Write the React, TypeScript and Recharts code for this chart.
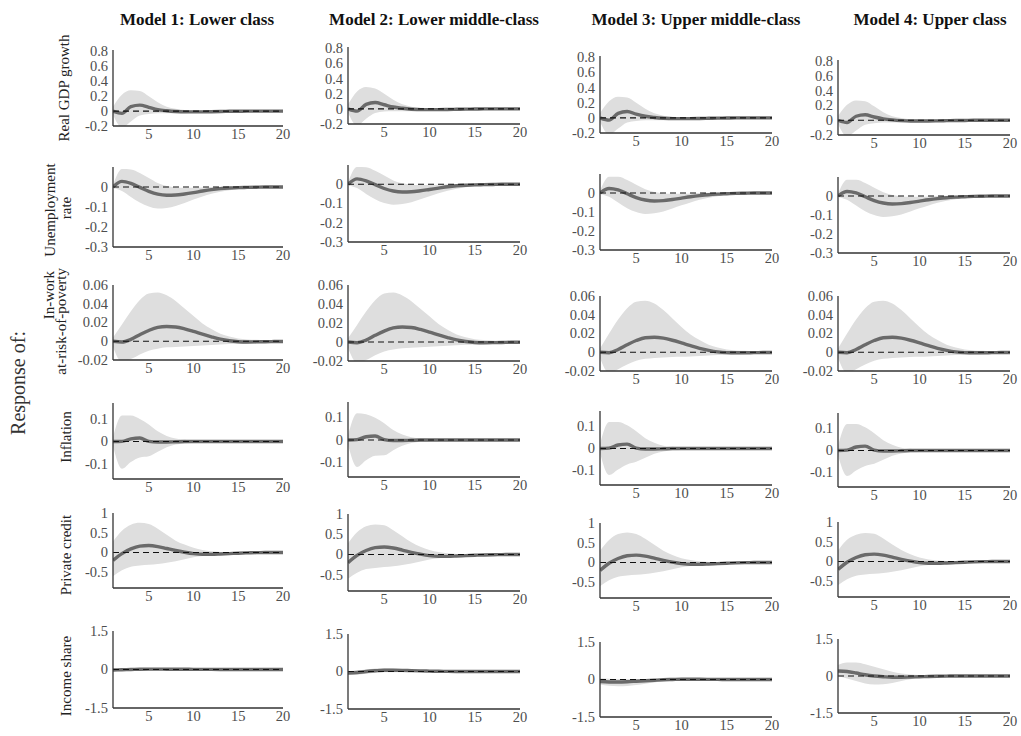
import { Area, ComposedChart, Line, ReferenceLine, XAxis, YAxis } from "recharts";

const horizons = [1, 2, 3, 4, 5, 6, 7, 8, 9, 10, 11, 12, 13, 14, 15, 16, 17, 18, 19, 20];
const modelTitles = ["Model 1: Lower class", "Model 2: Lower middle-class", "Model 3: Upper middle-class", "Model 4: Upper class"];
const xTicks = [5, 10, 15, 20];

// y ticks and domains, one per response row
const gdpTicks = [-0.2, 0, 0.2, 0.4, 0.6, 0.8];
const unempTicks = [-0.3, -0.2, -0.1, 0];
const povertyTicks = [-0.02, 0, 0.02, 0.04, 0.06];
const inflationTicks = [-0.1, 0, 0.1];
const creditTicks = [-0.5, 0, 0.5, 1];
const shareTicks = [-1.5, 0, 1.5];

// Real GDP growth
const gdpMedian = [
  [0, -0.03, 0.06, 0.08, 0.05, 0.02, 0.005, -0.005, -0.01, -0.01, -0.01, -0.008, -0.005, -0.003, -0.002, 0, 0, 0, 0, 0],
  [0, -0.03, 0.06, 0.085, 0.055, 0.025, 0.008, -0.004, -0.01, -0.01, -0.01, -0.008, -0.005, -0.003, -0.002, 0, 0, 0, 0, 0],
  [0, -0.03, 0.06, 0.085, 0.05, 0.022, 0.006, -0.005, -0.01, -0.01, -0.01, -0.008, -0.005, -0.003, -0.002, 0, 0, 0, 0, 0],
  [0, -0.03, 0.055, 0.075, 0.045, 0.02, 0.005, -0.005, -0.01, -0.01, -0.01, -0.008, -0.005, -0.003, -0.002, 0, 0, 0, 0, 0],
];
const gdpUpper = [
  [0.06, 0.22, 0.28, 0.27, 0.2, 0.12, 0.06, 0.03, 0.015, 0.01, 0.008, 0.006, 0.005, 0.004, 0.003, 0.003, 0.002, 0.002, 0.002, 0.002],
  [0.06, 0.23, 0.29, 0.27, 0.2, 0.12, 0.06, 0.03, 0.015, 0.01, 0.008, 0.006, 0.005, 0.004, 0.003, 0.003, 0.002, 0.002, 0.002, 0.002],
  [0.06, 0.22, 0.28, 0.27, 0.2, 0.12, 0.06, 0.03, 0.015, 0.01, 0.008, 0.006, 0.005, 0.004, 0.003, 0.003, 0.002, 0.002, 0.002, 0.002],
  [0.06, 0.21, 0.27, 0.26, 0.19, 0.11, 0.055, 0.03, 0.015, 0.01, 0.008, 0.006, 0.005, 0.004, 0.003, 0.003, 0.002, 0.002, 0.002, 0.002],
];
const gdpLower = [
  [-0.05, -0.22, -0.14, -0.06, -0.04, -0.03, -0.03, -0.03, -0.028, -0.025, -0.02, -0.016, -0.012, -0.01, -0.008, -0.006, -0.005, -0.004, -0.003, -0.003],
  [-0.05, -0.22, -0.13, -0.055, -0.035, -0.03, -0.03, -0.03, -0.028, -0.025, -0.02, -0.016, -0.012, -0.01, -0.008, -0.006, -0.005, -0.004, -0.003, -0.003],
  [-0.05, -0.22, -0.14, -0.06, -0.04, -0.03, -0.03, -0.03, -0.028, -0.025, -0.02, -0.016, -0.012, -0.01, -0.008, -0.006, -0.005, -0.004, -0.003, -0.003],
  [-0.05, -0.22, -0.14, -0.06, -0.04, -0.03, -0.03, -0.03, -0.028, -0.025, -0.02, -0.016, -0.012, -0.01, -0.008, -0.006, -0.005, -0.004, -0.003, -0.003],
];

// Unemployment rate
const unempMedian = [
  [0, 0.028, 0.018, -0.002, -0.022, -0.036, -0.041, -0.04, -0.035, -0.028, -0.02, -0.013, -0.008, -0.005, -0.003, -0.002, -0.001, 0, 0, 0],
  [0, 0.028, 0.018, -0.002, -0.022, -0.035, -0.04, -0.039, -0.034, -0.027, -0.02, -0.013, -0.008, -0.005, -0.003, -0.002, -0.001, 0, 0, 0],
  [0, 0.024, 0.016, -0.004, -0.024, -0.037, -0.042, -0.04, -0.034, -0.027, -0.02, -0.014, -0.009, -0.006, -0.004, -0.002, -0.001, 0, 0, 0],
  [0, 0.024, 0.016, -0.004, -0.024, -0.037, -0.042, -0.04, -0.034, -0.027, -0.02, -0.014, -0.009, -0.006, -0.004, -0.002, -0.001, 0, 0, 0],
];
const unempUpper = [
  [0.01, 0.09, 0.088, 0.07, 0.045, 0.02, 0.005, -0.002, -0.004, -0.004, -0.002, 0, 0.001, 0.001, 0.001, 0.001, 0.001, 0.001, 0.001, 0.001],
  [0.01, 0.09, 0.088, 0.07, 0.045, 0.02, 0.005, -0.002, -0.004, -0.004, -0.002, 0, 0.001, 0.001, 0.001, 0.001, 0.001, 0.001, 0.001, 0.001],
  [0.01, 0.085, 0.085, 0.068, 0.043, 0.02, 0.005, -0.002, -0.004, -0.004, -0.002, 0, 0.001, 0.001, 0.001, 0.001, 0.001, 0.001, 0.001, 0.001],
  [0.01, 0.085, 0.085, 0.068, 0.043, 0.02, 0.005, -0.002, -0.004, -0.004, -0.002, 0, 0.001, 0.001, 0.001, 0.001, 0.001, 0.001, 0.001, 0.001],
];
const unempLower = [
  [-0.005, -0.02, -0.05, -0.078, -0.098, -0.108, -0.105, -0.095, -0.08, -0.063, -0.048, -0.034, -0.024, -0.016, -0.011, -0.007, -0.005, -0.004, -0.003, -0.003],
  [-0.005, -0.02, -0.05, -0.078, -0.098, -0.106, -0.103, -0.093, -0.078, -0.062, -0.047, -0.034, -0.024, -0.016, -0.011, -0.007, -0.005, -0.004, -0.003, -0.003],
  [-0.005, -0.02, -0.05, -0.08, -0.1, -0.11, -0.107, -0.097, -0.082, -0.065, -0.05, -0.036, -0.025, -0.017, -0.011, -0.007, -0.005, -0.004, -0.003, -0.003],
  [-0.005, -0.02, -0.05, -0.08, -0.1, -0.11, -0.107, -0.097, -0.082, -0.065, -0.05, -0.036, -0.025, -0.017, -0.011, -0.007, -0.005, -0.004, -0.003, -0.003],
];

// In-work at-risk-of-poverty
const povertyMedian = [
  [0, -0.0008, 0.002, 0.007, 0.0115, 0.0148, 0.0158, 0.0152, 0.0132, 0.0105, 0.0075, 0.0047, 0.0022, 0.0005, -0.0005, -0.0008, -0.0007, -0.0005, -0.0003, -0.0002],
  [0, -0.0008, 0.002, 0.007, 0.0115, 0.0148, 0.0158, 0.0152, 0.0132, 0.0105, 0.0075, 0.0047, 0.0022, 0.0005, -0.0005, -0.0008, -0.0007, -0.0005, -0.0003, -0.0002],
  [0, -0.0005, 0.003, 0.008, 0.0125, 0.0155, 0.016, 0.015, 0.0128, 0.01, 0.007, 0.0042, 0.002, 0.0004, -0.0004, -0.0006, -0.0006, -0.0004, -0.0003, -0.0002],
  [0, -0.0005, 0.003, 0.008, 0.0125, 0.0155, 0.016, 0.015, 0.0128, 0.01, 0.007, 0.0042, 0.002, 0.0004, -0.0004, -0.0006, -0.0006, -0.0004, -0.0003, -0.0002],
];
const povertyUpper = [
  [0.004, 0.018, 0.032, 0.044, 0.051, 0.052, 0.049, 0.043, 0.035, 0.027, 0.019, 0.013, 0.008, 0.005, 0.003, 0.002, 0.0015, 0.001, 0.001, 0.001],
  [0.004, 0.018, 0.032, 0.044, 0.051, 0.052, 0.049, 0.043, 0.035, 0.027, 0.019, 0.013, 0.008, 0.005, 0.003, 0.002, 0.0015, 0.001, 0.001, 0.001],
  [0.004, 0.02, 0.035, 0.047, 0.054, 0.055, 0.052, 0.045, 0.036, 0.027, 0.019, 0.013, 0.008, 0.005, 0.003, 0.002, 0.0015, 0.001, 0.001, 0.001],
  [0.004, 0.02, 0.035, 0.047, 0.054, 0.055, 0.052, 0.045, 0.036, 0.027, 0.019, 0.013, 0.008, 0.005, 0.003, 0.002, 0.0015, 0.001, 0.001, 0.001],
];
const povertyLower = [
  [-0.006, -0.022, -0.019, -0.014, -0.01, -0.008, -0.0065, -0.006, -0.0055, -0.005, -0.0045, -0.004, -0.0035, -0.003, -0.0027, -0.0023, -0.002, -0.0017, -0.0015, -0.0013],
  [-0.006, -0.022, -0.019, -0.014, -0.01, -0.008, -0.0065, -0.006, -0.0055, -0.005, -0.0045, -0.004, -0.0035, -0.003, -0.0027, -0.0023, -0.002, -0.0017, -0.0015, -0.0013],
  [-0.006, -0.022, -0.018, -0.013, -0.009, -0.007, -0.006, -0.0055, -0.005, -0.0048, -0.0044, -0.004, -0.0035, -0.003, -0.0027, -0.0023, -0.002, -0.0017, -0.0015, -0.0013],
  [-0.006, -0.022, -0.018, -0.013, -0.009, -0.007, -0.006, -0.0055, -0.005, -0.0048, -0.0044, -0.004, -0.0035, -0.003, -0.0027, -0.0023, -0.002, -0.0017, -0.0015, -0.0013],
];

// Inflation
const inflationMedian = [
  [0, 0.001, 0.012, 0.016, 0.001, -0.002, -0.002, -0.001, 0, 0, 0, 0, 0, 0, 0, 0, 0, 0, 0, 0],
  [0, 0.002, 0.015, 0.018, 0.002, -0.002, -0.002, -0.001, 0, 0, 0, 0, 0, 0, 0, 0, 0, 0, 0, 0],
  [0, 0.002, 0.016, 0.02, 0.002, -0.002, -0.002, -0.001, 0, 0, 0, 0, 0, 0, 0, 0, 0, 0, 0, 0],
  [0, 0.002, 0.016, 0.02, 0.002, -0.002, -0.002, -0.001, 0, 0, 0, 0, 0, 0, 0, 0, 0, 0, 0, 0],
];
const inflationUpper = [
  [0.02, 0.115, 0.115, 0.1, 0.075, 0.045, 0.025, 0.013, 0.008, 0.005, 0.004, 0.003, 0.003, 0.002, 0.002, 0.002, 0.002, 0.002, 0.002, 0.002],
  [0.02, 0.12, 0.115, 0.1, 0.075, 0.045, 0.025, 0.013, 0.008, 0.005, 0.004, 0.003, 0.003, 0.002, 0.002, 0.002, 0.002, 0.002, 0.002, 0.002],
  [0.02, 0.12, 0.12, 0.105, 0.078, 0.047, 0.026, 0.013, 0.008, 0.005, 0.004, 0.003, 0.003, 0.002, 0.002, 0.002, 0.002, 0.002, 0.002, 0.002],
  [0.02, 0.12, 0.12, 0.105, 0.078, 0.047, 0.026, 0.013, 0.008, 0.005, 0.004, 0.003, 0.003, 0.002, 0.002, 0.002, 0.002, 0.002, 0.002, 0.002],
];
const inflationLower = [
  [-0.02, -0.12, -0.09, -0.07, -0.065, -0.045, -0.025, -0.013, -0.008, -0.006, -0.005, -0.004, -0.003, -0.003, -0.002, -0.002, -0.002, -0.002, -0.002, -0.002],
  [-0.02, -0.12, -0.09, -0.07, -0.068, -0.045, -0.025, -0.013, -0.008, -0.006, -0.005, -0.004, -0.003, -0.003, -0.002, -0.002, -0.002, -0.002, -0.002, -0.002],
  [-0.02, -0.12, -0.095, -0.072, -0.06, -0.042, -0.024, -0.013, -0.008, -0.006, -0.005, -0.004, -0.003, -0.003, -0.002, -0.002, -0.002, -0.002, -0.002, -0.002],
  [-0.02, -0.115, -0.09, -0.07, -0.06, -0.042, -0.024, -0.013, -0.008, -0.006, -0.005, -0.004, -0.003, -0.003, -0.002, -0.002, -0.002, -0.002, -0.002, -0.002],
];

// Private credit
const creditMedian = [
  [-0.2, -0.03, 0.09, 0.16, 0.175, 0.15, 0.1, 0.05, 0.005, -0.03, -0.045, -0.045, -0.038, -0.028, -0.018, -0.01, -0.005, -0.002, 0, 0],
  [-0.2, -0.02, 0.1, 0.17, 0.185, 0.16, 0.11, 0.055, 0.008, -0.028, -0.045, -0.045, -0.038, -0.028, -0.018, -0.01, -0.005, -0.002, 0, 0],
  [-0.2, -0.02, 0.1, 0.17, 0.185, 0.16, 0.11, 0.055, 0.008, -0.028, -0.045, -0.045, -0.038, -0.028, -0.018, -0.01, -0.005, -0.002, 0, 0],
  [-0.2, -0.02, 0.1, 0.17, 0.185, 0.16, 0.11, 0.055, 0.008, -0.028, -0.045, -0.045, -0.038, -0.028, -0.018, -0.01, -0.005, -0.002, 0, 0],
];
const creditUpper = [
  [0.28, 0.55, 0.7, 0.75, 0.72, 0.6, 0.45, 0.3, 0.2, 0.12, 0.06, 0.03, 0.015, 0.01, 0.008, 0.006, 0.005, 0.004, 0.003, 0.003],
  [0.28, 0.55, 0.7, 0.74, 0.72, 0.6, 0.45, 0.3, 0.19, 0.11, 0.06, 0.03, 0.015, 0.01, 0.008, 0.006, 0.005, 0.004, 0.003, 0.003],
  [0.3, 0.57, 0.72, 0.76, 0.72, 0.6, 0.45, 0.3, 0.19, 0.11, 0.06, 0.03, 0.015, 0.01, 0.008, 0.006, 0.005, 0.004, 0.003, 0.003],
  [0.28, 0.55, 0.68, 0.72, 0.7, 0.58, 0.43, 0.29, 0.18, 0.1, 0.05, 0.025, 0.015, 0.01, 0.008, 0.006, 0.005, 0.004, 0.003, 0.003],
];
const creditLower = [
  [-0.6, -0.45, -0.36, -0.33, -0.31, -0.29, -0.26, -0.22, -0.17, -0.12, -0.09, -0.075, -0.06, -0.045, -0.035, -0.025, -0.02, -0.015, -0.012, -0.01],
  [-0.6, -0.45, -0.36, -0.33, -0.31, -0.29, -0.26, -0.22, -0.17, -0.12, -0.09, -0.075, -0.06, -0.045, -0.035, -0.025, -0.02, -0.015, -0.012, -0.01],
  [-0.6, -0.45, -0.36, -0.33, -0.31, -0.29, -0.26, -0.22, -0.17, -0.12, -0.09, -0.075, -0.06, -0.045, -0.035, -0.025, -0.02, -0.015, -0.012, -0.01],
  [-0.6, -0.45, -0.36, -0.33, -0.31, -0.29, -0.26, -0.22, -0.17, -0.12, -0.09, -0.075, -0.06, -0.045, -0.035, -0.025, -0.02, -0.015, -0.012, -0.01],
];

// Income share of the class in each model
const shareMedian = [
  [-0.02, -0.01, 0, 0.01, 0.015, 0.015, 0.012, 0.01, 0.008, 0.006, 0.004, 0.003, 0.002, 0.001, 0, 0, 0, 0, 0, 0],
  [-0.06, -0.04, 0, 0.03, 0.05, 0.05, 0.045, 0.035, 0.025, 0.015, 0.008, 0.004, 0.002, 0.001, 0, 0, 0, 0, 0, 0],
  [-0.08, -0.1, -0.1, -0.09, -0.07, -0.05, -0.03, -0.01, 0, 0.01, 0.012, 0.01, 0.006, 0.003, 0.001, 0, 0, 0, 0, 0],
  [0.2, 0.18, 0.12, 0.05, 0, -0.03, -0.05, -0.05, -0.04, -0.03, -0.02, -0.01, -0.005, 0, 0, 0, 0, 0, 0, 0],
];
const shareUpper = [
  [0.03, 0.04, 0.05, 0.06, 0.06, 0.055, 0.05, 0.045, 0.04, 0.035, 0.03, 0.025, 0.02, 0.018, 0.015, 0.013, 0.012, 0.01, 0.01, 0.01],
  [0.02, 0.04, 0.08, 0.12, 0.13, 0.12, 0.1, 0.08, 0.06, 0.045, 0.035, 0.028, 0.022, 0.018, 0.015, 0.013, 0.012, 0.01, 0.01, 0.01],
  [0.05, 0.03, 0.02, 0.02, 0.02, 0.02, 0.025, 0.03, 0.035, 0.04, 0.04, 0.035, 0.03, 0.025, 0.02, 0.015, 0.012, 0.01, 0.01, 0.01],
  [0.45, 0.55, 0.55, 0.48, 0.38, 0.27, 0.17, 0.1, 0.06, 0.04, 0.03, 0.025, 0.02, 0.018, 0.015, 0.013, 0.012, 0.01, 0.01, 0.01],
];
const shareLower = [
  [-0.07, -0.06, -0.05, -0.04, -0.035, -0.035, -0.035, -0.03, -0.028, -0.025, -0.022, -0.02, -0.018, -0.016, -0.015, -0.013, -0.012, -0.01, -0.01, -0.01],
  [-0.14, -0.13, -0.09, -0.05, -0.03, -0.025, -0.025, -0.022, -0.02, -0.02, -0.018, -0.016, -0.015, -0.014, -0.013, -0.012, -0.011, -0.01, -0.01, -0.01],
  [-0.2, -0.25, -0.27, -0.26, -0.22, -0.17, -0.12, -0.07, -0.04, -0.025, -0.02, -0.018, -0.016, -0.014, -0.013, -0.012, -0.011, -0.01, -0.01, -0.01],
  [0, -0.1, -0.2, -0.3, -0.34, -0.33, -0.28, -0.2, -0.13, -0.08, -0.05, -0.035, -0.025, -0.02, -0.016, -0.014, -0.012, -0.01, -0.01, -0.01],
];

const rows = [
  { median: gdpMedian, upper: gdpUpper, lower: gdpLower, ticks: gdpTicks, domain: [-0.2, 0.82] },
  { median: unempMedian, upper: unempUpper, lower: unempLower, ticks: unempTicks, domain: [-0.3, 0.1] },
  { median: povertyMedian, upper: povertyUpper, lower: povertyLower, ticks: povertyTicks, domain: [-0.02, 0.06] },
  { median: inflationMedian, upper: inflationUpper, lower: inflationLower, ticks: inflationTicks, domain: [-0.165, 0.17] },
  { median: creditMedian, upper: creditUpper, lower: creditLower, ticks: creditTicks, domain: [-0.9, 1] },
  { median: shareMedian, upper: shareUpper, lower: shareLower, ticks: shareTicks, domain: [-1.5, 1.5] },
];

// plot-area geometry, per column / per row
const colLeft = [113, 348, 600, 838];
const colRight = [283, 520, 772, 1010];
const plotTops = [
  [50, 167, 285, 403, 513, 631],
  [47, 165, 285, 402, 514, 634],
  [56, 174, 296, 411, 523, 642],
  [60, 177, 296, 413, 522, 639],
];
const plotBottoms = [
  [126, 247, 360, 479, 588, 708],
  [124, 242, 361, 477, 591, 709],
  [133, 250, 371, 485, 598, 717],
  [135, 253, 371, 487, 597, 713],
];
const titleCenters = [197, 434, 696, 930];

const FONT = "Liberation Serif";
const TICK_FILL = "#4d4d4d";
const TICK_SIZE = 14.5;
const Y_W = 45;
const PAD_T = 12;
const PAD_R = 12;
const X_H = 22;

function XTick(props: any) {
  const { x, y, payload } = props;
  return (
    <text x={x} y={y} dy={10.5} textAnchor="middle" fontFamily={FONT} fontSize={TICK_SIZE} fill={TICK_FILL}>
      {String(payload.value)}
    </text>
  );
}

function YTick(props: any) {
  const { x, y, payload } = props;
  return (
    <text x={x} y={y} dy={4.8} textAnchor="end" fontFamily={FONT} fontSize={TICK_SIZE} fill={TICK_FILL}>
      {String(payload.value)}
    </text>
  );
}

function Panel({ row, col }: { row: number; col: number }) {
  const r = rows[row];
  const med = r.median[col];
  const up = r.upper[col];
  const lo = r.lower[col];
  const data = horizons.map((h, i) => ({ h, med: med[i], band: [lo[i], up[i]] }));
  const left = colLeft[col];
  const top = plotTops[col][row];
  const w = colRight[col] - left;
  const hgt = plotBottoms[col][row] - top;
  return (
    <div style={{ position: "absolute", left: left - Y_W, top: top - PAD_T }}>
      <ComposedChart
        width={w + Y_W + PAD_R}
        height={hgt + PAD_T + X_H}
        data={data}
        margin={{ top: PAD_T, right: PAD_R, left: 0, bottom: 0 }}
      >
        <XAxis
          dataKey="h"
          type="number"
          domain={[1, 20]}
          ticks={xTicks}
          tick={<XTick />}
          tickLine={false}
          tickSize={2}
          tickMargin={0}
          height={X_H}
          axisLine={{ stroke: "#333", strokeWidth: 1.3 }}
          allowDataOverflow
        />
        <YAxis
          type="number"
          domain={r.domain}
          ticks={r.ticks}
          tick={<YTick />}
          tickLine={false}
          tickSize={3}
          tickMargin={2}
          width={Y_W}
          interval={0}
          axisLine={{ stroke: "#333", strokeWidth: 1.3 }}
          allowDataOverflow
        />
        <Area
          dataKey="band"
          type="monotone"
          stroke="none"
          fill="#dedede"
          fillOpacity={1}
          isAnimationActive={false}
          activeDot={false}
        />
        <Line
          dataKey="med"
          type="monotone"
          stroke="#6a6a6a"
          strokeWidth={3.4}
          dot={false}
          activeDot={false}
          isAnimationActive={false}
        />
        <ReferenceLine y={0} stroke="#111" strokeWidth={1.1} strokeDasharray="6 4" />
      </ComposedChart>
    </div>
  );
}

export default function App() {
  return (
    <div
      style={{
        position: "absolute",
        left: 0,
        top: 0,
        width: 1021,
        height: 736,
        background: "#fff",
        overflow: "hidden",
      }}
    >
      <svg width={1021} height={736} style={{ position: "absolute", left: 0, top: 0 }} fontFamily={FONT}>
        {modelTitles.map((t, i) => (
          <text key={t} x={titleCenters[i]} y={25} textAnchor="middle" fontSize={17} fontWeight="bold" fill="#111">
            {t}
          </text>
        ))}
        <text transform="translate(25 383) rotate(-90)" textAnchor="middle" fontSize={20} fill="#333">
          Response of:
        </text>
        <g fontSize={15} fill="#222">
          <text transform="translate(69 88) rotate(-90)" textAnchor="middle">Real GDP growth</text>
          <text transform="translate(55 210) rotate(-90)" textAnchor="middle">Unemployment</text>
          <text transform="translate(71 208) rotate(-90)" textAnchor="middle">rate</text>
          <text transform="translate(54 271) rotate(-90)" textAnchor="end">In-work</text>
          <text transform="translate(66 268) rotate(-90)" textAnchor="end">at-risk-of-poverty</text>
          <text transform="translate(71 437) rotate(-90)" textAnchor="middle">Inflation</text>
          <text transform="translate(71 555) rotate(-90)" textAnchor="middle">Private credit</text>
          <text transform="translate(71 676) rotate(-90)" textAnchor="middle">Income share</text>
        </g>
      </svg>
      {rows.map((_, row) => [0, 1, 2, 3].map((col) => <Panel key={`${row}-${col}`} row={row} col={col} />))}
    </div>
  );
}
